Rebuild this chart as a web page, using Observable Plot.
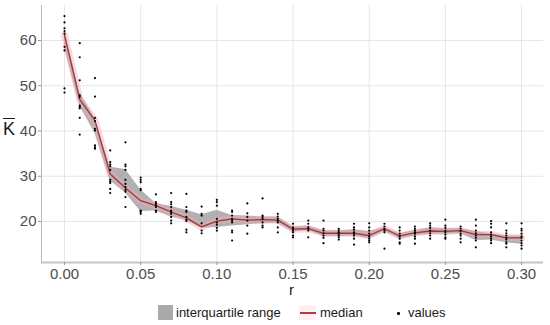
<!DOCTYPE html>
<html><head><meta charset="utf-8">
<script src="https://cdn.jsdelivr.net/npm/d3@7"></script>
<script src="https://cdn.jsdelivr.net/npm/@observablehq/plot@0.6"></script>
<style>
body{margin:0;background:#fff;font-family:"Liberation Sans",Arial,sans-serif;}
#wrap{position:relative;width:550px;height:325px;overflow:hidden;}
#ylab{position:absolute;left:3px;top:119px;font-size:18px;color:#1a1a1a;text-decoration:overline;line-height:20px;}
#xlab{position:absolute;left:289px;top:282px;font-size:15px;color:#1a1a1a;line-height:15px;}
.lg{position:absolute;font-size:13px;color:#1a1a1a;top:305px;line-height:16px;}
</style></head>
<body><div id="wrap"><div id="chart"></div>
<div id="ylab">K</div>
<div id="xlab">r</div>
<div class="lg" style="left:158px;top:305px;width:15px;height:15px;background:#aaaaaa;"></div>
<div class="lg" style="left:176px;">interquartile range</div>
<div class="lg" style="left:299px;top:305px;width:17px;height:15px;background:#fdf0f4;"></div>
<div class="lg" style="left:300px;top:312px;width:16px;height:1.5px;background:#b04030;"></div>
<div class="lg" style="left:320px;">median</div>
<div class="lg" style="left:397px;top:312px;width:2.5px;height:2.5px;border-radius:50%;background:#000;"></div>
<div class="lg" style="left:408px;">values</div>
</div>
<script>
const rs = [0,0.01,0.02,0.03,0.04,0.05,0.06,0.07,0.08,0.09,0.10,0.11,0.12,0.13,0.14,0.15,0.16,0.17,0.18,0.19,0.20,0.21,0.22,0.23,0.24,0.25,0.26,0.27,0.28,0.29,0.30];
const medians = [61.2,47.0,42.3,30.5,27.4,24.6,23.5,22.1,20.8,18.8,20.1,20.6,20.3,20.4,20.3,18.3,18.4,17.4,17.4,17.4,16.9,18.4,16.8,17.5,17.9,17.8,18.0,17.1,17.1,16.4,16.4];
const q1 = [58.5,45.5,39.5,29.0,26.3,22.2,22.3,21.0,20.2,18.5,18.7,19.0,19.3,19.5,19.6,17.6,18.0,16.7,16.7,16.8,16.2,17.8,16.2,16.8,17.2,17.2,17.3,15.8,15.9,15.3,15.0];
const q3 = [62.5,48.5,42.8,32.0,31.5,27.0,24.0,23.3,22.5,21.5,22.5,21.3,21.2,21.0,21.0,18.8,19.0,18.0,17.9,18.2,17.8,18.7,17.3,18.0,18.6,18.4,18.4,17.8,17.3,16.8,16.8];
const values = [
 [65.4,64.0,62.7,62.1,61.5,58.6,57.8,49.4,48.5],
 [59.4,56.3,51.2,47.9,47.5,45.6,45.3,45.0,42.9,39.2],
 [51.7,47.6,42.9,42.2,40.5,40.1,36.8,36.4,36.1],
 [35.7,33.1,32.6,32.2,31.4,29.2,28.8,28.5,27.2,26.3],
 [37.5,32.6,32.2,31.4,29.2,28.3,27.6,27.0,26.6,25.4,23.2],
 [29.7,29.2,28.7,27.2,26.9,22.4,22.3,22.1,21.7],
 [26.0,24.3,23.9,23.5,23.2,22.4,22.1],
 [26.3,24.3,23.8,23.2,22.4,22.1,21.7,21.0,20.2,19.6],
 [26.1,23.2,22.4,22.1,21.0,20.4,20.1,18.2,17.6],
 [23.3,21.7,21.3,19.6,18.0,17.4],
 [24.8,24.3,23.5,20.6,19.8,19.3,18.6,18.0],
 [22.4,22.1,21.3,20.6,20.2,19.8,18.0,17.6,15.8],
 [24.0,21.8,21.0,20.2,19.1,17.3],
 [25.1,21.3,21.0,20.6,19.8,19.1,18.7],
 [21.7,21.1,20.6,20.2,19.8,18.7,17.6],
 [19.5,18.7,18.4,18.0,17.6,16.9,16.5],
 [20.2,19.5,18.7,18.4,18.0,16.5],
 [20.2,18.4,18.0,17.4,16.9,16.4,15.2],
 [18.4,18.0,17.6,17.3,16.9,16.5,16.0],
 [19.5,18.7,18.2,17.6,17.3,16.9,16.2,14.9],
 [19.6,18.7,18.0,17.3,16.7,16.2,15.8,15.4],
 [19.5,18.9,18.4,18.0,17.6,14.0],
 [18.7,18.0,17.3,16.7,16.2,15.4,15.1],
 [18.9,18.4,18.0,17.6,17.3,16.7,16.2,15.1],
 [19.6,19.1,18.6,18.0,17.4,16.9,16.2],
 [20.4,19.1,18.6,18.0,17.6,17.1,16.5,16.2],
 [18.9,18.4,17.9,17.3,16.9,16.2,15.4],
 [20.4,19.1,18.0,17.4,16.9,16.4,15.8,14.3],
 [20.1,19.5,18.7,17.6,17.1,16.7,16.2,15.8,15.2],
 [19.6,18.0,17.4,16.9,16.4,16.0,15.4,15.1,14.3],
 [19.6,18.4,18.0,17.3,16.7,16.4,15.8,15.2,14.7,14.0]
];
const xTicks = [0,0.05,0.10,0.15,0.20,0.25,0.30];
const yTicks = [20,30,40,50,60];
const xDomain = [-0.0151, 0.3144];
const yDomain = [10.94, 67.73];

const summary = rs.map((r,i)=>({r, med:medians[i], lo:q1[i], hi:q3[i]}));
const pts = rs.flatMap((r,i)=>values[i].map(v=>({r, v})));

const chart = Plot.plot({
  width:550, height:297,
  marginLeft:41, marginRight:7, marginTop:5, marginBottom:35,
  x:{domain:xDomain},
  y:{domain:yDomain},
  style:{fontFamily:"'Liberation Sans', Arial, sans-serif", fontSize:"14px", color:"#4d4d4d", background:"white"},
  marks:[
    Plot.gridX(xTicks,{stroke:"#e6e6e6", strokeOpacity:1}),
    Plot.gridY(yTicks,{stroke:"#e6e6e6", strokeOpacity:1}),
    Plot.areaY(summary,{x:"r", y1:"lo", y2:"hi", fill:"#a3a3a3", fillOpacity:0.85}),
    Plot.line(summary,{x:"r", y:"med", stroke:"#f2a6c2", strokeWidth:7, strokeOpacity:0.45}),
    Plot.line(summary,{x:"r", y:"med", stroke:"#9a3d28", strokeWidth:1.3}),
    Plot.dot(pts,{x:"r", y:"v", r:1.1, fill:"black", stroke:null}),
    Plot.ruleX([xDomain[0]],{stroke:"#b8b8b8", strokeWidth:1}),
    Plot.ruleY([yDomain[0]],{stroke:"#c4c4c4", strokeWidth:2}),
    Plot.axisX(xTicks,{tickFormat:d3.format(".2f"), tickSize:3, tickPadding:3, stroke:"#999", fontSize:15, label:null}),
    Plot.axisY(yTicks,{tickSize:3, tickPadding:2, stroke:"#999", fontSize:15, label:null})
  ]
});
document.getElementById("chart").appendChild(chart);
</script>
</body></html>
